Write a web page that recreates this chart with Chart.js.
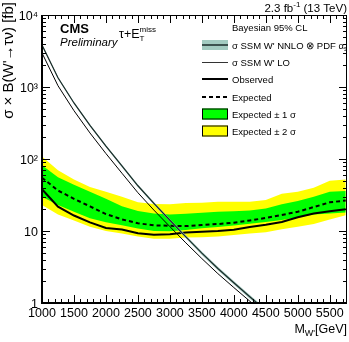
<!DOCTYPE html>
<html><head><meta charset="utf-8">
<script src="https://cdn.jsdelivr.net/npm/chart.js@4.4.1/dist/chart.umd.min.js"></script>
<style>html,body{margin:0;padding:0;background:#fff;}#wrap{width:349px;height:342px;position:relative;}</style>
</head><body><div id="wrap"><canvas id="c" width="349" height="342"></canvas></div>
<script>
// ---- data ----
const massLimit = [1000,1250,1500,1750,2000,2250,2500,2750,3000,3250,3500,3750,4000,4250,4500,4750,5000,5250,5500,5750];
const observed  = [38,21.8,16.4,13.2,11,10.5,9.3,8.9,9.0,9.5,9.8,10.0,10.4,11.4,12.2,13.3,15.5,17.5,18.8,20];
const expected  = [55,36.5,28,22,17.2,14.5,12.8,12.0,11.8,11.7,12.1,12.5,13.0,14.0,15.2,16.7,18.5,21.5,25,26.5];
const exp1Up    = [82,56,44,35,28,22,19,17.5,17.0,17.3,17.9,18.5,18.8,19.3,20.5,23.5,26,30,35,36];
const exp1Down  = [30,23,18.5,15,13.2,12,10.8,10.0,9.9,10.3,10.9,11.4,11.9,12.6,13.3,14.2,15.5,17,17.5,18];
const exp2Up    = [108,70,52,41,35,30,25,23.8,23.5,24.5,24.7,25.5,25.5,25.5,27,33,35,40,50,52];
const exp2Down  = [23,17,14,11.5,10,9.2,8.4,7.8,7.8,8.1,8.2,8.4,8.8,9.2,9.6,10.6,11.5,12.5,14.5,16.5];

const massTheory   = [1000,1250,1500,1750,2000,2250,2500,2750,3000,3250,3500,3750,4000,4250,4500];
const xsecNNLO     = [3830,1343,600,294,151,80,42.5,24.2,14.1,8.28,4.93,3.02,1.91,1.22,0.785];
const xsecNNLOUp   = [3940,1383,619,304,156.5,83,44.2,25.2,14.7,8.7,5.2,3.19,2.02,1.29,0.835];
const xsecNNLODown = [3720,1303,581,284,145.5,77,40.8,23.2,13.5,7.9,4.66,2.85,1.80,1.15,0.74];
const xsecLO       = [2969,1041,469,230,119,63.5,34.0,19.5,11.5,6.84,4.14,2.56,1.64,1.06,0.68];

const xTickValues = [1000,1500,2000,2500,3000,3500,4000,4500,5000,5500];
const yTickValues = [1,10,100,1000,10000];
const yTickLabels = ['1','10','10\u00B2','10\u00B3','10\u2074'];

const FONT = '"Liberation Sans", Arial, Helvetica, sans-serif';
const pts = (xs, ys) => xs.map((m,i)=>({x:m, y:ys[i]}));

function ds(label, xs, ys, o){
  return Object.assign({label, data:pts(xs,ys), pointRadius:0, borderWidth:0, tension:0, fill:false}, o);
}

const datasets = [
  ds('exp2Up', massLimit, exp2Up, {fill:'+1', backgroundColor:'#ffff00', borderColor:'rgba(0,0,0,0)', order:20}),
  ds('exp2Down', massLimit, exp2Down, {borderColor:'rgba(0,0,0,0)', order:19}),
  ds('exp1Up', massLimit, exp1Up, {fill:'+1', backgroundColor:'#00ff00', borderColor:'rgba(0,0,0,0)', order:18}),
  ds('exp1Down', massLimit, exp1Down, {borderColor:'rgba(0,0,0,0)', order:17}),
  ds('Expected', massLimit, expected, {borderColor:'#000', borderWidth:2, borderDash:[4,3], order:10}),
  ds('Observed', massLimit, observed, {borderColor:'#000', borderWidth:2, order:9}),
  ds('nnloUp', massTheory, xsecNNLOUp, {fill:'+1', backgroundColor:'#a3cbc1', borderColor:'rgba(0,0,0,0)', order:6}),
  ds('nnloDown', massTheory, xsecNNLODown, {borderColor:'rgba(0,0,0,0)', order:5}),
  ds('NNLO', massTheory, xsecNNLO, {borderColor:'#1a2a28', borderWidth:1.2, order:4}),
  ds('LO', massTheory, xsecLO, {borderColor:'#000', borderWidth:1, order:3}),
];

const frame = {
  id:'frame',
  afterDatasetsDraw(chart){
    const {ctx, chartArea:a, scales:{x,y}} = chart;
    ctx.save();
    ctx.strokeStyle='#000'; ctx.fillStyle='#000'; ctx.lineWidth=1;
    ctx.beginPath();
    for(let v=1000; v<=x.max; v+=100){
      const px=Math.round(x.getPixelForValue(v))+0.5;
      const L=(v%500===0)?8:4;
      ctx.moveTo(px,a.bottom); ctx.lineTo(px,a.bottom-L);
      ctx.moveTo(px,a.top); ctx.lineTo(px,a.top+L);
    }
    for(let d=1; d<=10000; d*=10){
      for(let k=1;k<=9;k++){
        const v=k*d; if(v>y.max) break;
        const py=Math.round(y.getPixelForValue(v))+0.5;
        const L=(k===1)?8:4;
        ctx.moveTo(a.left,py); ctx.lineTo(a.left+L,py);
        ctx.moveTo(a.right,py); ctx.lineTo(a.right-L,py);
      }
    }
    ctx.stroke();
    ctx.beginPath();
    ctx.moveTo(a.left, a.top+0.5); ctx.lineTo(a.right, a.top+0.5);
    ctx.moveTo(a.right-0.5, a.top); ctx.lineTo(a.right-0.5, a.bottom);
    ctx.stroke();
    ctx.fillRect(a.left-1, a.top, 2, a.bottom-a.top+1);
    ctx.fillRect(a.left-1, a.bottom-1, a.right-a.left+1, 2);
    ctx.restore();
  }
};

const annot = {
  id:'annot',
  afterDraw(chart){
    const ctx = chart.ctx;
    ctx.save();
    ctx.fillStyle='#000';
    ctx.textBaseline='alphabetic';
    // top-right lumi
    const f1 = '11.5px '+FONT, fs='8px '+FONT;
    ctx.font=f1; const p1='2.3 fb', p2=' (13 TeV)';
    const w1=ctx.measureText(p1).width, w2=ctx.measureText(p2).width;
    ctx.font=fs; const ws=ctx.measureText('-1').width;
    let x0 = 347 - (w1+ws+w2);
    ctx.font=f1; ctx.textAlign='left'; ctx.fillText(p1,x0,12);
    ctx.font=fs; ctx.fillText('-1',x0+w1,7);
    ctx.font=f1; ctx.fillText(p2,x0+w1+ws,12);
    // CMS
    ctx.font='bold 13px '+FONT; ctx.fillText('CMS',60,33);
    ctx.font='italic 11.5px '+FONT; ctx.fillText('Preliminary',60,46);
    // tau + MET
    ctx.font='12.5px '+FONT; ctx.fillText('\u03C4+E',119,38);
    const wt=ctx.measureText('\u03C4+E').width;
    ctx.font='8px '+FONT; ctx.fillText('miss',119+wt,32); ctx.fillText('T',119+wt,41);
    // legend
    ctx.font='9.5px '+FONT;
    ctx.fillText('Bayesian 95% CL',232,31);
    const rows=[45,62,79,97,114,131];
    const texts=['\u03C3 SSM W\' NNLO \u2297 PDF \u03B1','\u03C3 SSM W\' LO','Observed','Expected','Expected \u00B1 1 \u03C3','Expected \u00B1 2 \u03C3'];
    texts.forEach((t,i)=>{ ctx.fillText(t,232,rows[i]+3.5); });
    const wa=ctx.measureText(texts[0]).width;
    ctx.font='6.5px '+FONT; ctx.fillText('s',232+wa,rows[0]+5.5);
    // symbols
    ctx.fillStyle='#a3cbc1'; ctx.fillRect(202,rows[0]-5,26,10);
    ctx.strokeStyle='#1a2a28'; ctx.lineWidth=1.5;
    ctx.beginPath(); ctx.moveTo(202,rows[0]); ctx.lineTo(228,rows[0]); ctx.stroke();
    ctx.strokeStyle='#333'; ctx.lineWidth=1;
    ctx.beginPath(); ctx.moveTo(202,rows[1]+0.5); ctx.lineTo(228,rows[1]+0.5); ctx.stroke();
    ctx.strokeStyle='#000'; ctx.lineWidth=2;
    ctx.beginPath(); ctx.moveTo(202,rows[2]); ctx.lineTo(228,rows[2]); ctx.stroke();
    ctx.setLineDash([4,3]);
    ctx.beginPath(); ctx.moveTo(202,rows[3]); ctx.lineTo(228,rows[3]); ctx.stroke();
    ctx.setLineDash([]);
    ctx.lineWidth=1;
    ctx.fillStyle='#00ff00'; ctx.fillRect(202,rows[4]-5.5,26,11); ctx.strokeRect(202.5,rows[4]-5,25,10);
    ctx.fillStyle='#ffff00'; ctx.fillRect(202,rows[5]-5.5,26,11); ctx.strokeRect(202.5,rows[5]-5,25,10);
    // y title
    ctx.fillStyle='#000';
    ctx.save();
    ctx.translate(9,2); ctx.rotate(-Math.PI/2);
    ctx.font='15px '+FONT; ctx.textAlign='right'; ctx.textBaseline='middle';
    ctx.fillText('\u03C3 \u00D7 B(W\'\u2192\u03C4\u03BD) [fb]',0,0);
    ctx.restore();
    // x title
    ctx.textAlign='left'; ctx.textBaseline='alphabetic';
    ctx.font='12.5px '+FONT; const wM=ctx.measureText('M').width, wG=ctx.measureText('[GeV]').width;
    ctx.font='9px '+FONT; const wW=ctx.measureText('W\'').width;
    let xs=347-(wM+wW+wG);
    ctx.font='12.5px '+FONT; ctx.fillText('M',xs,333);
    ctx.font='9px '+FONT; ctx.fillText('W\'',xs+wM,336);
    ctx.font='12.5px '+FONT; ctx.fillText('[GeV]',xs+wM+wW,333);
    ctx.restore();
  }
};

new Chart(document.getElementById('c'), {
  type:'line',
  data:{datasets},
  options:{
    responsive:false, animation:false, devicePixelRatio:1,
    layout:{padding:{left:0,right:2,top:15,bottom:0}},
    plugins:{legend:{display:false}, tooltip:{enabled:false}, title:{display:false}},
    scales:{
      x:{type:'linear', min:1000, max:5770,
        afterFit(s){ s.height=39; },
        afterBuildTicks(s){ s.ticks = xTickValues.map(v=>({value:v})); },
        grid:{display:false, drawTicks:false}, border:{display:false},
        ticks:{autoSkip:false, maxRotation:0, padding:3, color:'#000', font:{family:FONT,size:12.5},
          callback:(v)=>String(v)}
      },
      y:{type:'logarithmic', min:1, max:10000,
        afterFit(s){ s.width=42; },
        afterBuildTicks(s){ s.ticks = yTickValues.map(v=>({value:v})); },
        grid:{display:false, drawTicks:false}, border:{display:false},
        ticks:{autoSkip:false, padding:4, labelOffset:2, color:'#000', font:{family:FONT,size:12.5},
          callback:(v)=>{ const i=yTickValues.indexOf(v); return i>=0?yTickLabels[i]:''; }}
      }
    }
  },
  plugins:[frame, annot]
});
</script></body></html>
